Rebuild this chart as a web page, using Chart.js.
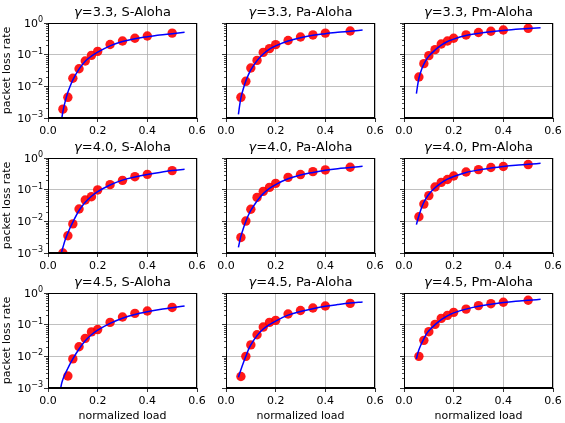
<!DOCTYPE html>
<html>
	<head>
		<meta charset="utf-8">
		<title>packet loss rate vs normalized load</title>
		<style>
			body { margin: 0; background: #fff; }
			#fig { position: relative; width: 565px; height: 423px; overflow: hidden; }
			#fig canvas { position: absolute; }
		</style>
	</head>
	<body>
		<div id="fig"></div>

		<script src="https://cdn.jsdelivr.net/npm/chart.js"></script>
		<script>
			// loads where the simulation was run (red dots)
			const loads = [0.06, 0.08, 0.1, 0.125, 0.15, 0.175, 0.2, 0.25, 0.3, 0.35, 0.4, 0.5];
			// loads of the analytical curve (blue line)
			const theoryLoads = [0.05, 0.055, 0.06, 0.07, 0.08, 0.09, 0.1, 0.125, 0.15, 0.175, 0.2, 0.25, 0.3, 0.35, 0.4, 0.45, 0.5, 0.55];

			const gammas = ['3.3', '4.0', '4.5'];
			const schemes = ['S-Aloha', 'Pa-Aloha', 'Pm-Aloha'];

			const xTicks = [0, 0.2, 0.4, 0.6];
			const yDecades = [1e-3, 1e-2, 1e-1, 1];
			const yDecadeExps = ['\u22123', '\u22122', '\u22121', '0'];

			// simulation, one array per panel (null = below the axis)
			const simG33S  = [1.9e-3, 4.5e-3, 1.8e-2, 3.6e-2, 6.3e-2, 9.5e-2, 0.127, 0.21, 0.27, 0.33, 0.39, 0.48];
			const simG33Pa = [4.5e-3, 1.44e-2, 3.8e-2, 6.6e-2, 0.118, 0.155, 0.207, 0.28, 0.36, 0.42, 0.48, 0.56];
			const simG33Pm = [1.97e-2, 5.2e-2, 9.3e-2, 0.144, 0.217, 0.27, 0.33, 0.42, 0.5, 0.55, 0.6, 0.68];
			const simG40S  = [1e-3, 3.5e-3, 8.3e-3, 2.45e-2, 4.7e-2, 6e-2, 9.8e-2, 0.144, 0.197, 0.257, 0.305, 0.4];
			const simG40Pa = [3.1e-3, 1.02e-2, 2.4e-2, 5.7e-2, 8.8e-2, 0.118, 0.158, 0.245, 0.3, 0.37, 0.42, 0.51];
			const simG40Pm = [1.4e-2, 3.5e-2, 6.5e-2, 0.121, 0.17, 0.21, 0.27, 0.36, 0.43, 0.5, 0.54, 0.62];
			const simG45S  = [null, 2.4e-3, 8.3e-3, 2e-2, 3.7e-2, 5.9e-2, 7e-2, 0.118, 0.175, 0.228, 0.27, 0.35];
			const simG45Pa = [2.3e-3, 1e-2, 2.3e-2, 4.8e-2, 8.4e-2, 0.118, 0.137, 0.217, 0.28, 0.336, 0.39, 0.47];
			const simG45Pm = [1e-2, 3.2e-2, 6e-2, 0.102, 0.158, 0.197, 0.245, 0.31, 0.4, 0.46, 0.51, 0.59];

			// analysis, one array per panel
			const thG33S  = [4e-4, 9e-4, 1.6e-3, 3.5e-3, 6.5e-3, 1.05e-2, 1.6e-2, 3.5e-2, 6.2e-2, 9e-2, 0.12, 0.19, 0.26, 0.32, 0.37, 0.42, 0.46, 0.51];
			const thG33Pa = [1.3e-3, 2.5e-3, 4.3e-3, 8.5e-3, 1.5e-2, 2.3e-2, 3.3e-2, 6.5e-2, 0.105, 0.15, 0.19, 0.27, 0.34, 0.41, 0.46, 0.51, 0.55, 0.6];
			const thG33Pm = [5.9e-3, 1.1e-2, 1.8e-2, 3.3e-2, 5e-2, 7e-2, 9e-2, 0.14, 0.2, 0.26, 0.31, 0.4, 0.47, 0.53, 0.58, 0.63, 0.67, 0.71];
			const thG40S  = [8e-4, 1.1e-3, 1.5e-3, 2.7e-3, 4.3e-3, 6.5e-3, 9.5e-3, 2.2e-2, 4e-2, 6.2e-2, 8.6e-2, 0.14, 0.2, 0.25, 0.3, 0.35, 0.4, 0.44];
			const thG40Pa = [1.5e-3, 2.3e-3, 3.4e-3, 6e-3, 1e-2, 1.55e-2, 2.2e-2, 4.4e-2, 7.5e-2, 0.11, 0.145, 0.22, 0.29, 0.35, 0.41, 0.46, 0.5, 0.55];
			const thG40Pm = [7.9e-3, 1.1e-2, 1.5e-2, 2.6e-2, 4e-2, 5.5e-2, 7.2e-2, 0.115, 0.165, 0.215, 0.26, 0.35, 0.42, 0.48, 0.54, 0.59, 0.63, 0.68];
			const thG45S  = [9e-4, 1.4e-3, 1.9e-3, 2.9e-3, 4.2e-3, 6e-3, 8.3e-3, 1.7e-2, 3.1e-2, 4.8e-2, 6.7e-2, 0.11, 0.16, 0.21, 0.255, 0.3, 0.34, 0.39];
			const thG45Pa = [2.2e-3, 2.9e-3, 3.8e-3, 6.3e-3, 1e-2, 1.6e-2, 2.3e-2, 4.5e-2, 7.3e-2, 0.1, 0.13, 0.2, 0.26, 0.32, 0.38, 0.43, 0.48, 0.52];
			const thG45Pm = [8.3e-3, 1.2e-2, 1.6e-2, 2.5e-2, 3.6e-2, 5e-2, 6.4e-2, 0.1, 0.145, 0.19, 0.235, 0.31, 0.38, 0.44, 0.5, 0.55, 0.59, 0.63];

			const sims = [[simG33S, simG33Pa, simG33Pm], [simG40S, simG40Pa, simG40Pm], [simG45S, simG45Pa, simG45Pm]];
			const theory = [[thG33S, thG33Pa, thG33Pm], [thG40S, thG40Pa, thG40Pm], [thG45S, thG45Pa, thG45Pm]];

			// log axis ticks: decades plus 2..9 minor ticks
			const yTickValues = [];
			yDecades.forEach(function(d, i) {
				yTickValues.push(d);
				if (i < yDecades.length - 1)
					for (let k = 2; k <= 9; k++) yTickValues.push(d * k);
			});

			// layout of the 3x3 grid (plot boxes in page pixels)
			const colLeft = [48, 226, 404];
			const rowTop = [23, 158, 293];
			const plotW = 149, plotH = 95;
			const padLeft = 48, padTop = 23, padRight = 14;
			const FONT = '"DejaVu Sans"';

			Chart.defaults.font.family = FONT + ', sans-serif';
			Chart.defaults.color = '#000';

			// title with an italic gamma, like matplotlib mathtext
			const panelTitle = {
				id: 'panelTitle',
				afterDraw(chart, args, opts) {
					const ctx = chart.ctx, a = chart.chartArea;
					const f = '13px ' + FONT;
					const rest = '=' + opts.gamma + ', ' + opts.scheme;
					ctx.save();
					ctx.fillStyle = '#000';
					ctx.textAlign = 'left';
					ctx.textBaseline = 'alphabetic';
					ctx.font = 'italic ' + f;
					const w1 = ctx.measureText('γ').width;
					ctx.font = f;
					const w2 = ctx.measureText(rest).width;
					const x = (a.left + a.right) / 2 - (w1 + w2) / 2;
					const y = a.top - 7;
					ctx.font = 'italic ' + f;
					ctx.fillText('γ', x, y);
					ctx.font = f;
					ctx.fillText(rest, x + w1, y);
					ctx.restore();
				}
			};

			// 10^k labels with a raised exponent
			const decadeLabels = {
				id: 'decadeLabels',
				afterDraw(chart, args, opts) {
					if (!opts.show) return;
					const ctx = chart.ctx, ys = chart.scales.y;
					const right = chart.chartArea.left - 5;
					ctx.save();
					ctx.fillStyle = '#000';
					ctx.textAlign = 'left';
					ctx.textBaseline = 'alphabetic';
					yDecades.forEach(function(d, i) {
						const y = ys.getPixelForValue(d);
						ctx.font = '8px ' + FONT;
						const we = ctx.measureText(yDecadeExps[i]).width;
						ctx.font = '11px ' + FONT;
						const wb = ctx.measureText('10').width;
						const x0 = right - we - wb;
						const base = y + 3.5;
						ctx.fillText('10', x0, base);
						ctx.font = '8px ' + FONT;
						ctx.fillText(yDecadeExps[i], x0 + wb, base - 4.5);
					});
					ctx.restore();
				}
			};

			// full box around the axes, plus the short minor ticks of the log axis
			const frame = {
				id: 'frame',
				afterDatasetsDraw(chart) {
					const ctx = chart.ctx, a = chart.chartArea, ys = chart.scales.y;
					ctx.save();
					ctx.strokeStyle = '#000';
					ctx.lineWidth = 1;
					const l = Math.round(a.left) + 0.5, t = Math.round(a.top) + 0.5;
					const r = Math.round(a.right) - 0.5, b = Math.round(a.bottom) - 0.5;
					ctx.strokeRect(l, t, r - l, b - t);
					ctx.lineWidth = 0.7;
					ctx.beginPath();
					ys.ticks.forEach(function(tk) {
						if (tk.major) return;
						const y = Math.round(ys.getPixelForValue(tk.value)) + 0.5;
						ctx.moveTo(l - 2.5, y);
						ctx.lineTo(l, y);
					});
					ctx.stroke();
					ctx.restore();
				}
			};

			const fig = document.getElementById('fig');

			for (let r = 0; r < 3; r++) {
				for (let c = 0; c < 3; c++) {
					const axisH = r == 2 ? 35 : 22;
					const cv = document.createElement('canvas');
					cv.width = padLeft + plotW + padRight;
					cv.height = padTop + plotH + axisH;
					cv.style.left = (colLeft[c] - padLeft) + 'px';
					cv.style.top = (rowTop[r] - padTop) + 'px';
					fig.appendChild(cv);

					const sim = sims[r][c];
					const th = theory[r][c];

					new Chart(cv, {
						type: 'scatter',
						data: {
							datasets: [{
								type: 'line',
								data: theoryLoads.map(function(x, i) { return {x: x, y: th[i]}; }),
								borderColor: '#0000ff',
								borderWidth: 1.5,
								pointRadius: 0,
								fill: false,
								cubicInterpolationMode: 'monotone',
								order: 1,
								clip: 0
							}, {
								type: 'scatter',
								data: loads.map(function(x, i) { return {x: x, y: sim[i]}; }).filter(function(p) { return p.y !== null; }),
								backgroundColor: 'rgba(255,0,0,0.9)',
								borderWidth: 0,
								pointRadius: 4.7,
								order: 2,
								clip: 0
							}]
						},
						options: {
							responsive: false,
							animation: false,
							devicePixelRatio: 1,
							events: [],
							layout: { padding: { top: padTop, right: padRight, left: 0, bottom: 0 } },
							plugins: {
								legend: { display: false },
								tooltip: { enabled: false },
								panelTitle: { gamma: gammas[r], scheme: schemes[c] },
								decadeLabels: { show: c === 0 }
							},
							scales: {
								x: {
									type: 'linear',
									min: 0,
									max: 0.6,
									afterBuildTicks: function(s) { s.ticks = xTicks.map(function(v) { return {value: v}; }); },
									afterFit: function(s) { s.height = axisH; },
									ticks: {
										autoSkip: false,
										maxRotation: 0,
										padding: 3,
										font: { size: 11 },
										color: '#000',
										callback: function(v) { return v.toFixed(1); }
									},
									grid: { color: '#b0b0b0', lineWidth: 0.8, tickLength: 4, tickColor: '#000', tickWidth: 0.8 },
									border: { color: '#000', width: 1 },
									title: {
										display: r == 2,
										text: 'normalized load',
										font: { size: 11 },
										color: '#000',
										padding: { top: 0, bottom: 0 }
									}
								},
								y: {
									type: 'logarithmic',
									min: 1e-3,
									max: 1,
									afterBuildTicks: function(s) {
										s.ticks = yTickValues.map(function(v) { return {value: v, major: yDecades.includes(v)}; });
									},
									afterFit: function(s) { s.width = padLeft; },
									ticks: {
										autoSkip: false,
										padding: 3,
										font: { size: 11 },
										callback: function() { return ''; }
									},
									grid: {
										color: function(ctx) { return (ctx.tick && ctx.tick.major) ? '#b0b0b0' : 'rgba(0,0,0,0)'; },
										lineWidth: 0.8,
										tickLength: 4,
										tickColor: function(ctx) { return (ctx.tick && ctx.tick.major) ? '#000' : 'rgba(0,0,0,0)'; },
										tickWidth: 0.8
									},
									border: { color: '#000', width: 1 },
									title: {
										display: c === 0,
										text: 'packet loss rate',
										font: { size: 11 },
										color: '#000',
										padding: { top: 1, bottom: 0 }
									}
								}
							}
						},
						plugins: [panelTitle, decadeLabels, frame]
					});
				}
			}
		</script>
	</body>
</html>
